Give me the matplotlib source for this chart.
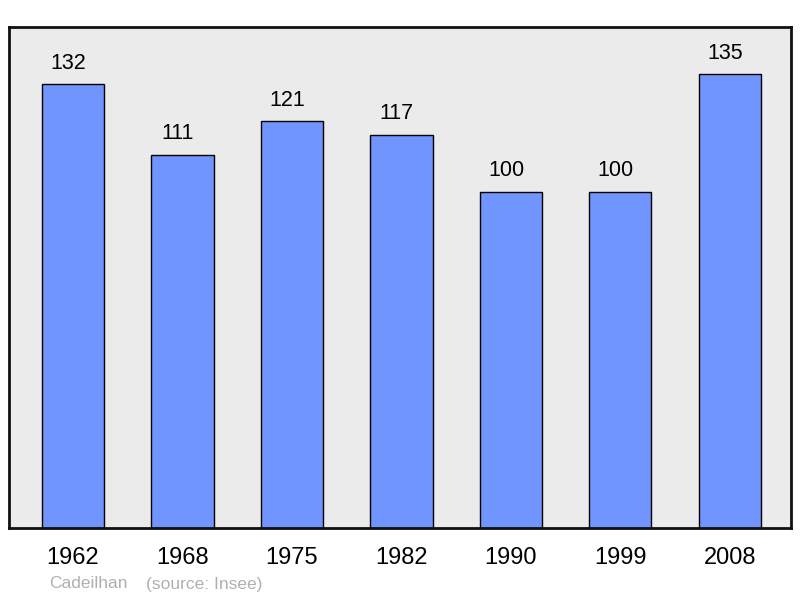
import matplotlib.pyplot as plt

plt.rcParams['font.family'] = ['Liberation Sans', 'DejaVu Sans']

# --- données ---
years = ['1962', '1968', '1975', '1982', '1990', '1999', '2008']
population = [132, 111, 121, 117, 100, 100, 135]

fig = plt.figure(figsize=(8, 5.98), dpi=100)
ax = fig.add_axes([9 / 800, 70 / 598, 782 / 800, 501 / 598])
ax.set_facecolor('#ebebeb')

x = range(len(years))
bars = ax.bar(x, population, width=0.57, color='#7095ff',
              edgecolor='black', linewidth=1.0, zorder=2)

# étiquettes légèrement décalées à gauche comme dans l'original
for xi, val in zip(x, population):
    ax.annotate(str(val), (xi, val), xytext=(-3.5, 7.5), textcoords='offset points',
                ha='center', va='bottom', fontsize=15.5)

ax.set_xlim(-0.585, 6.56)
ax.set_ylim(0, 149)
ax.set_xticks(list(x))
ax.set_xticklabels(years, fontsize=17)
ax.tick_params(axis='x', length=0, pad=14)
ax.set_yticks([])
for sp in ax.spines.values():
    sp.set_linewidth(2)
    sp.set_color('#111111')

fig.text(49 / 800, 1 - 584 / 598, 'Cadeilhan', color='#b0b0b0',
         fontsize=12.5, va='center', ha='left')
fig.text(146 / 800, 1 - 584 / 598, '(source: Insee)', color='#b0b0b0',
         fontsize=12.5, va='center', ha='left')

fig.savefig('out.png', dpi=100)
